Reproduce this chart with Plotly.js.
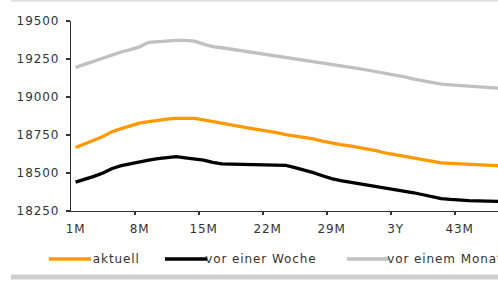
<!DOCTYPE html>
<html>
<head>
<meta charset="utf-8">
<script src="https://cdn.plot.ly/plotly-3.0.1.min.js"></script>
<style>
  html, body { margin: 0; padding: 0; background: #fff; overflow: hidden; }
  #chart { width: 498px; height: 282px; }
  #chart text { letter-spacing: 0.9px; }
</style>
</head>
<body>
<div id="chart"></div>
<script>
// Laufzeiten (Monate)
const months = [1,2,3,4,5,6,7,8,9,10,11,12,13,14,15,16,17,18,19,20,21,22,23,24,
                25,26,27,28,29,30,31,32,33,34,35,36,37,38,39,40,41,42,43,44,45,46,47,48];

const tickVals = [1, 8, 15, 22, 29, 36, 43];
const tickText = ['1M', '8M', '15M', '22M', '29M', '3Y', '43M'];

const seriesNames = ['aktuell', 'vor einer Woche', 'vor einem Monat'];

const aktuell = [18668,18690,18715,18740,18772,18792,18810,18828,18838,18848,18855,18859,
                 18860,18859,18850,18838,18826,18815,18804,18795,18785,18776,18765,18752,
                 18744,18737,18724,18710,18696,18687,18678,18668,18659,18645,18630,18620,
                 18609,18598,18586,18576,18567,18563,18559,18556,18553,18550,18548,18546];

const vorWoche = [18440,18458,18478,18500,18530,18548,18562,18575,18585,18595,18604,18608,
                  18600,18595,18585,18570,18560,18558,18557,18557,18557,18556,18556,18550,
                  18535,18521,18502,18482,18463,18450,18440,18432,18423,18413,18403,18394,
                  18383,18370,18357,18345,18332,18326,18320,18318,18316,18314,18313,18312];

const vorMonat = [19195,19215,19237,19258,19280,19296,19312,19330,19360,19366,19371,19373,
                  19372,19367,19348,19332,19324,19315,19307,19298,19289,19280,19270,19262,
                  19255,19241,19232,19224,19215,19206,19197,19187,19176,19166,19155,19146,
                  19132,19118,19106,19094,19085,19080,19075,19070,19066,19062,19058,19055];

const colors = ['#FF9900', '#000000', '#C0C0C0'];

const W = 498, H = 282;
const M = { l: 71, r: 0, t: 21, b: 71 };
const plotW = W - M.l - M.r, plotH = H - M.t - M.b;
const px = v => (v - M.l) / plotW;
const py = v => (H - M.b - v) / plotH;

const data = [aktuell, vorWoche, vorMonat].map((ys, i) => ({
  type: 'scatter', mode: 'lines', x: months, y: ys, name: seriesNames[i],
  line: { color: colors[i], width: 3.3 }, hoverinfo: 'skip'
}));

const font = { family: 'DejaVu Sans, Arial, sans-serif', size: 12, color: '#333333' };

// legend drawn manually (positions in pixels)
const legendY = 259;
const legendItems = [
  { x0: 49, x1: 91, tx: 94 },
  { x0: 165, x1: 207, tx: 210 },
  { x0: 347, x1: 389, tx: 392 }
];

const shapes = [
  { type: 'rect', xref: 'paper', yref: 'paper', x0: px(11), x1: px(498), y0: py(0), y1: py(1.8),
    fillcolor: '#e2e2e2', line: { width: 0 }, layer: 'below' },
  { type: 'rect', xref: 'paper', yref: 'paper', x0: px(11), x1: px(498), y0: py(274.5), y1: py(279.5),
    fillcolor: '#cfcfcf', line: { width: 0 }, layer: 'below' }
];
const annotations = [];
legendItems.forEach((it, i) => {
  shapes.push({ type: 'line', xref: 'paper', yref: 'paper', x0: px(it.x0), x1: px(it.x1),
    y0: py(legendY), y1: py(legendY), line: { color: colors[i], width: 3.3 } });
  annotations.push({ xref: 'paper', yref: 'paper', x: px(it.tx), y: py(legendY),
    xanchor: 'left', yanchor: 'middle', showarrow: false, text: seriesNames[i], font: font });
});

const layout = {
  width: W, height: H, margin: M,
  paper_bgcolor: '#ffffff', plot_bgcolor: '#ffffff',
  showlegend: false, font: font,
  xaxis: {
    range: [0.5, 0.5 + plotW / 9.143], tickmode: 'array', tickvals: tickVals, ticktext: tickText,
    ticks: '', showgrid: false, zeroline: false, showline: true, linecolor: '#333333', linewidth: 1.3,
    tickfont: font, ticklabelstandoff: 6,
    minor: { tickmode: 'array', tickvals: [7.5, 14.5, 21.5, 28.5, 35.5, 42.5], ticks: 'outside',
             ticklen: 3, tickwidth: 1.3, tickcolor: '#333333', showgrid: false }
  },
  yaxis: {
    range: [18250, 19500], tickmode: 'linear', tick0: 18250, dtick: 250, tickformat: 'd',
    ticks: 'outside', ticklen: 4, tickwidth: 1.3, tickcolor: '#333333',
    showgrid: false, zeroline: false, showline: true, linecolor: '#333333', linewidth: 1.3,
    tickfont: font, ticklabelstandoff: 4
  },
  shapes: shapes, annotations: annotations
};

Plotly.newPlot('chart', data, layout, { staticPlot: true, displayModeBar: false });
</script>
</body>
</html>
